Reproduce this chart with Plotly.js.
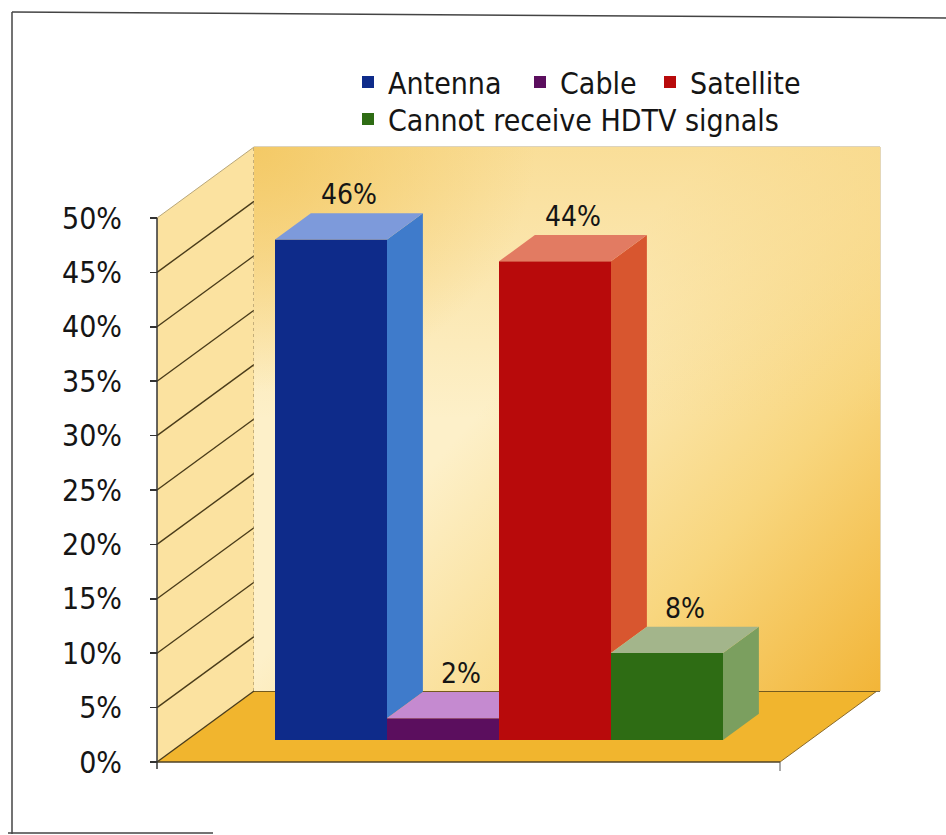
<!DOCTYPE html>
<html>
<head>
<meta charset="utf-8">
<script src="https://cdn.plot.ly/plotly-3.0.1.min.js"></script>
<style>
  html, body { margin: 0; padding: 0; background: #ffffff; }
  #chart { width: 946px; height: 835px; }
</style>
</head>
<body>
<div id="chart"></div>
<script>
// ---------------- data ----------------
const categories = ['Antenna', 'Cable', 'Satellite', 'Cannot receive HDTV signals'];
const values = [46, 2, 44, 8];
const valueLabels = ['46%', '2%', '44%', '8%'];
const yTickVals = [0, 5, 10, 15, 20, 25, 30, 35, 40, 45, 50];
const yTickText = ['0%', '5%', '10%', '15%', '20%', '25%', '30%', '35%', '40%', '45%', '50%'];

// ---------------- style ----------------
const frontColors = ['#0E2B8A', '#5B0E5E', '#B80A0B', '#2E6C14'];
const sideColors  = ['#3F7BCB', '#8C4A93', '#D8562F', '#7B9F5F'];
const topColors   = ['#7D9ADB', '#C58AD0', '#E27B62', '#A3B58B'];
const condFont = '"DejaVu Sans Condensed", "Liberation Sans Narrow", "Arial Narrow", sans-serif';
const gridColor = '#4A3C1A';

// plot-area geometry (pixels) and scale
const W = 946, H = 835;
const PA = { left: 150, right: 885, top: 140, bottom: 775 };
const X0PX = 331, UX = 112;      // pixel of category 0, pixels per category
const Y0PX = 762, UY = 10.88;    // pixel of 0 %, pixels per percent
const xRange = [(PA.left - X0PX) / UX, (PA.right - X0PX) / UX];
const yRange = [(Y0PX - PA.bottom) / UY, (Y0PX - PA.top) / UY];
const xp = px => (px - PA.left) / (PA.right - PA.left);
const yp = py => (PA.bottom - py) / (PA.bottom - PA.top);

// legend entry positions (pixels of the text start and row top)
const legendPos = [[388, 56], [560, 56], [690, 56], [388, 93]];

// 3-D box geometry (in axis units)
const yTop = yTickVals[yTickVals.length - 1];
const xL = (157 - X0PX) / UX;          // front-left edge of the box
const xRf = (780 - X0PX) / UX;         // front-right edge of the floor
const xBackR = (880 - X0PX) / UX;      // right edge of back wall
const DX = 97 / UX, DY = 71 / UY;      // full depth offset
const BASE = 0.31 * DY;                // bars stand at this depth
const BDX = 0.37 * DX, BDY = 0.37 * DY;// bar depth

function path(pts) {
  return 'M' + pts.map(p => p[0] + ',' + p[1]).join('L') + 'Z';
}
const shapes = [];
// floor
shapes.push({type: 'path', layer: 'below', xref: 'x', yref: 'y',
  path: path([[xL, 0], [xRf, 0], [xRf + DX, DY], [xL + DX, DY]]),
  fillcolor: '#F1B52E', line: {width: 0}});
// left wall
shapes.push({type: 'path', layer: 'below', xref: 'x', yref: 'y',
  path: path([[xL, 0], [xL, yTop], [xL + DX, yTop + DY], [xL + DX, DY]]),
  fillcolor: '#FBE2A0', line: {width: 0}});
// wall grid lines
yTickVals.forEach(t => {
  const strong = t < yTop;
  const col = strong ? gridColor : '#B9A77A';
  const w = strong ? 1.4 : 1;
  shapes.push({type: 'line', layer: 'below', xref: 'x', yref: 'y',
    x0: xL, y0: t, x1: xL + DX, y1: t + DY, line: {color: col, width: w}});
  shapes.push({type: 'line', layer: 'below', xref: 'x', yref: 'y',
    x0: xL + DX, y0: t + DY, x1: xBackR, y1: t + DY, line: {color: col, width: w}});
});
// wall corner and right edge
shapes.push({type: 'line', layer: 'below', xref: 'x', yref: 'y',
  x0: xL + DX, y0: DY, x1: xL + DX, y1: yTop + DY, line: {color: '#8C7B55', width: 1, dash: 'dot'}});
shapes.push({type: 'line', layer: 'below', xref: 'x', yref: 'y',
  x0: xBackR, y0: DY, x1: xBackR, y1: yTop + DY, line: {color: '#C9B072', width: 1}});
// floor edges
shapes.push({type: 'line', layer: 'below', xref: 'x', yref: 'y',
  x0: xL, y0: 0, x1: xRf, y1: 0, line: {color: '#4E4226', width: 1.5}});
shapes.push({type: 'line', layer: 'below', xref: 'x', yref: 'y',
  x0: xRf, y0: 0, x1: xRf + DX, y1: DY, line: {color: '#8A6A2A', width: 1}});
shapes.push({type: 'line', layer: 'below', xref: 'x', yref: 'y',
  x0: xRf, y0: 0, x1: xRf, y1: -9 / UY, line: {color: '#555555', width: 1}});
// y axis line
shapes.push({type: 'line', layer: 'above', xref: 'x', yref: 'y',
  x0: xL, y0: -7 / UY, x1: xL, y1: yTop, line: {color: '#333333', width: 1.5}});

// bar side and top faces, from the data
values.forEach((v, i) => {
  const next = i < values.length - 1 ? values[i + 1] : null;
  const lower = next === null ? 0 : Math.min(Math.max(next, 0), v);
  if (v > lower) {
    shapes.push({type: 'path', layer: 'above', xref: 'x', yref: 'y',
      path: path([[i + 0.5, BASE + lower], [i + 0.5, BASE + v], [i + 0.5 + BDX, BASE + v + BDY], [i + 0.5 + BDX, BASE + lower + BDY]]),
      fillcolor: sideColors[i], line: {width: 0}});
  }
  const top = BASE + v;
  let topPts;
  if (next !== null && next > v) {
    topPts = [[i - 0.5, top], [i + 0.5, top], [i + 0.5, top + BDY], [i - 0.5 + BDX, top + BDY]];
  } else {
    topPts = [[i - 0.5, top], [i + 0.5, top], [i + 0.5 + BDX, top + BDY], [i - 0.5 + BDX, top + BDY]];
  }
  shapes.push({type: 'path', layer: 'above', xref: 'x', yref: 'y',
    path: path(topPts), fillcolor: topColors[i], line: {width: 0}});
});

// outer frame (paper)
shapes.push({type: 'line', xref: 'paper', yref: 'paper', x0: xp(12), y0: yp(12), x1: xp(946), y1: yp(18), line: {color: '#444444', width: 1.5}});
shapes.push({type: 'line', xref: 'paper', yref: 'paper', x0: xp(12), y0: yp(12), x1: xp(12), y1: yp(834), line: {color: '#444444', width: 1.5}});
shapes.push({type: 'line', xref: 'paper', yref: 'paper', x0: xp(8), y0: yp(833), x1: xp(213), y1: yp(833), line: {color: '#444444', width: 1.5}});

// back wall gradient
const wallSvg = '<svg xmlns="http://www.w3.org/2000/svg" viewBox="0 0 100 100" preserveAspectRatio="none" width="100" height="100">' +
  '<defs>' +
  '<linearGradient id="a" x1="0.35" y1="0.5" x2="1" y2="1"><stop offset="0" stop-color="#FDF0C9"/><stop offset="0.55" stop-color="#F8D67E"/><stop offset="1" stop-color="#F2B538"/></linearGradient>' +
  '<linearGradient id="c" x1="0" y1="0" x2="0" y2="1"><stop offset="0" stop-color="#F8D888" stop-opacity="0.75"/><stop offset="0.5" stop-color="#F8D888" stop-opacity="0"/></linearGradient>' +
  '<radialGradient id="b" cx="0" cy="0" r="0.45"><stop offset="0" stop-color="#F3C760" stop-opacity="0.9"/><stop offset="1" stop-color="#F3C760" stop-opacity="0"/></radialGradient>' +
  '</defs>' +
  '<rect width="100" height="100" fill="url(#a)"/><rect width="100" height="100" fill="url(#c)"/><rect width="100" height="100" fill="url(#b)"/></svg>';
const images = [{
  source: 'data:image/svg+xml;charset=utf-8,' + encodeURIComponent(wallSvg),
  xref: 'x', yref: 'y', x: xL + DX, y: yTop + DY, sizex: xBackR - (xL + DX), sizey: yTop,
  xanchor: 'left', yanchor: 'top', sizing: 'stretch', layer: 'below'
}];

// bars (front faces), one legend per entry so entries sit as in the original
const legendIds = ['legend', 'legend2', 'legend3', 'legend4'];
const traces = categories.map((c, i) => ({
  type: 'bar', name: c, x: [i], y: [values[i]], base: [BASE], width: [1],
  marker: {color: frontColors[i], line: {width: 0}},
  hoverinfo: 'skip', showlegend: true, legend: legendIds[i]
}));

// value labels
const annotations = values.map((v, i) => ({
  x: i + BDX / 2, y: BASE + v + BDY, xref: 'x', yref: 'y',
  text: valueLabels[i], showarrow: false, yanchor: 'bottom', yshift: 0,
  font: {family: condFont, size: 28, color: '#151515'}
}));

const layout = {
  width: W, height: H,
  margin: {l: PA.left, r: W - PA.right, t: PA.top, b: H - PA.bottom, pad: 0},
  paper_bgcolor: '#ffffff', plot_bgcolor: 'rgba(0,0,0,0)',
  barmode: 'overlay',
  showlegend: true,
  xaxis: {range: xRange, visible: false, fixedrange: true},
  yaxis: {
    range: yRange, anchor: 'free', position: xp(157),
    tickmode: 'array', tickvals: yTickVals, ticktext: yTickText,
    ticks: 'outside', ticklen: 7, tickwidth: 1.5, tickcolor: '#333333',
    ticklabelstandoff: 22,
    tickfont: {family: condFont, size: 30, color: '#151515'},
    showgrid: false, zeroline: false, showline: false, fixedrange: true
  },
  shapes: shapes, images: images, annotations: annotations
};
legendIds.forEach((id, i) => {
  layout[id] = {
    orientation: 'h', x: xp(legendPos[i][0] - 40), y: yp(legendPos[i][1]), xanchor: 'left', yanchor: 'top',
    font: {family: condFont, size: 30, color: '#151515'},
    bgcolor: 'rgba(0,0,0,0)', itemclick: false, itemdoubleclick: false
  };
});

Plotly.newPlot('chart', traces, layout, {displayModeBar: false, staticPlot: true});
</script>
</body>
</html>
